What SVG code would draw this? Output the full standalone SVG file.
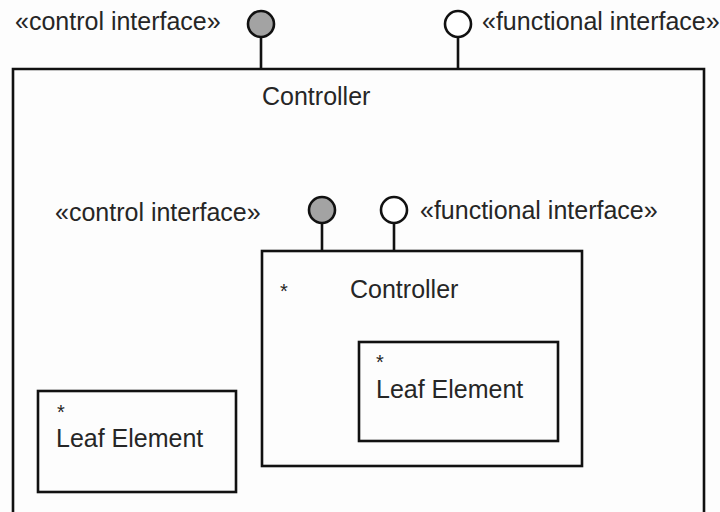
<svg xmlns="http://www.w3.org/2000/svg" width="720" height="512" viewBox="0 0 720 512">
<style>
text{font-family:"Liberation Sans",Arial,sans-serif;font-size:25px;fill:#262626}
.box{fill:none;stroke:#111;stroke-width:2.6}
.stem{stroke:#111;stroke-width:2.6}
.ctl{fill:#a3a3a3;stroke:#111;stroke-width:2.6}
.fun{fill:#fff;stroke:#111;stroke-width:2.6}
.ast{font-size:20px}
</style>
<rect width="720" height="512" fill="#fdfdfd"/>
<g id="outer-controller">
<path class="box" d="M13,530 V69 H704 V530"/>
<text x="262" y="105">Controller</text>
</g>
<g id="outer-control-interface">
<circle class="ctl" cx="261" cy="24" r="13"/>
<text x="15" y="30">«control interface»</text>
</g>
<g id="outer-functional-interface">
<circle class="fun" cx="458" cy="24" r="13"/>
<text x="482" y="30">«functional interface»</text>
</g>
<g id="inner-controller">
<rect class="box" x="262" y="251" width="320" height="215"/>
<text class="ast" x="280" y="298">*</text>
<text x="350" y="298">Controller</text>
</g>
<g id="inner-control-interface">
<circle class="ctl" cx="322" cy="210" r="13"/>
<text x="55" y="221">«control interface»</text>
</g>
<g id="inner-functional-interface">
<circle class="fun" cx="394" cy="210" r="13"/>
<text x="420" y="219">«functional interface»</text>
</g>
<g id="inner-leaf">
<rect class="box" x="359" y="342" width="199" height="99"/>
<text class="ast" x="376" y="369">*</text>
<text x="376" y="398">Leaf Element</text>
</g>
<g id="outer-leaf">
<rect class="box" x="38" y="391" width="198" height="101"/>
<text class="ast" x="57" y="419">*</text>
<text x="56" y="447">Leaf Element</text>
</g>
<g id="connectors">
<line class="stem" x1="261" y1="37" x2="261" y2="69"/>
<line class="stem" x1="458" y1="37" x2="458" y2="69"/>
<line class="stem" x1="322" y1="223" x2="322" y2="251"/>
<line class="stem" x1="394" y1="223" x2="394" y2="251"/>
</g>
</svg>
